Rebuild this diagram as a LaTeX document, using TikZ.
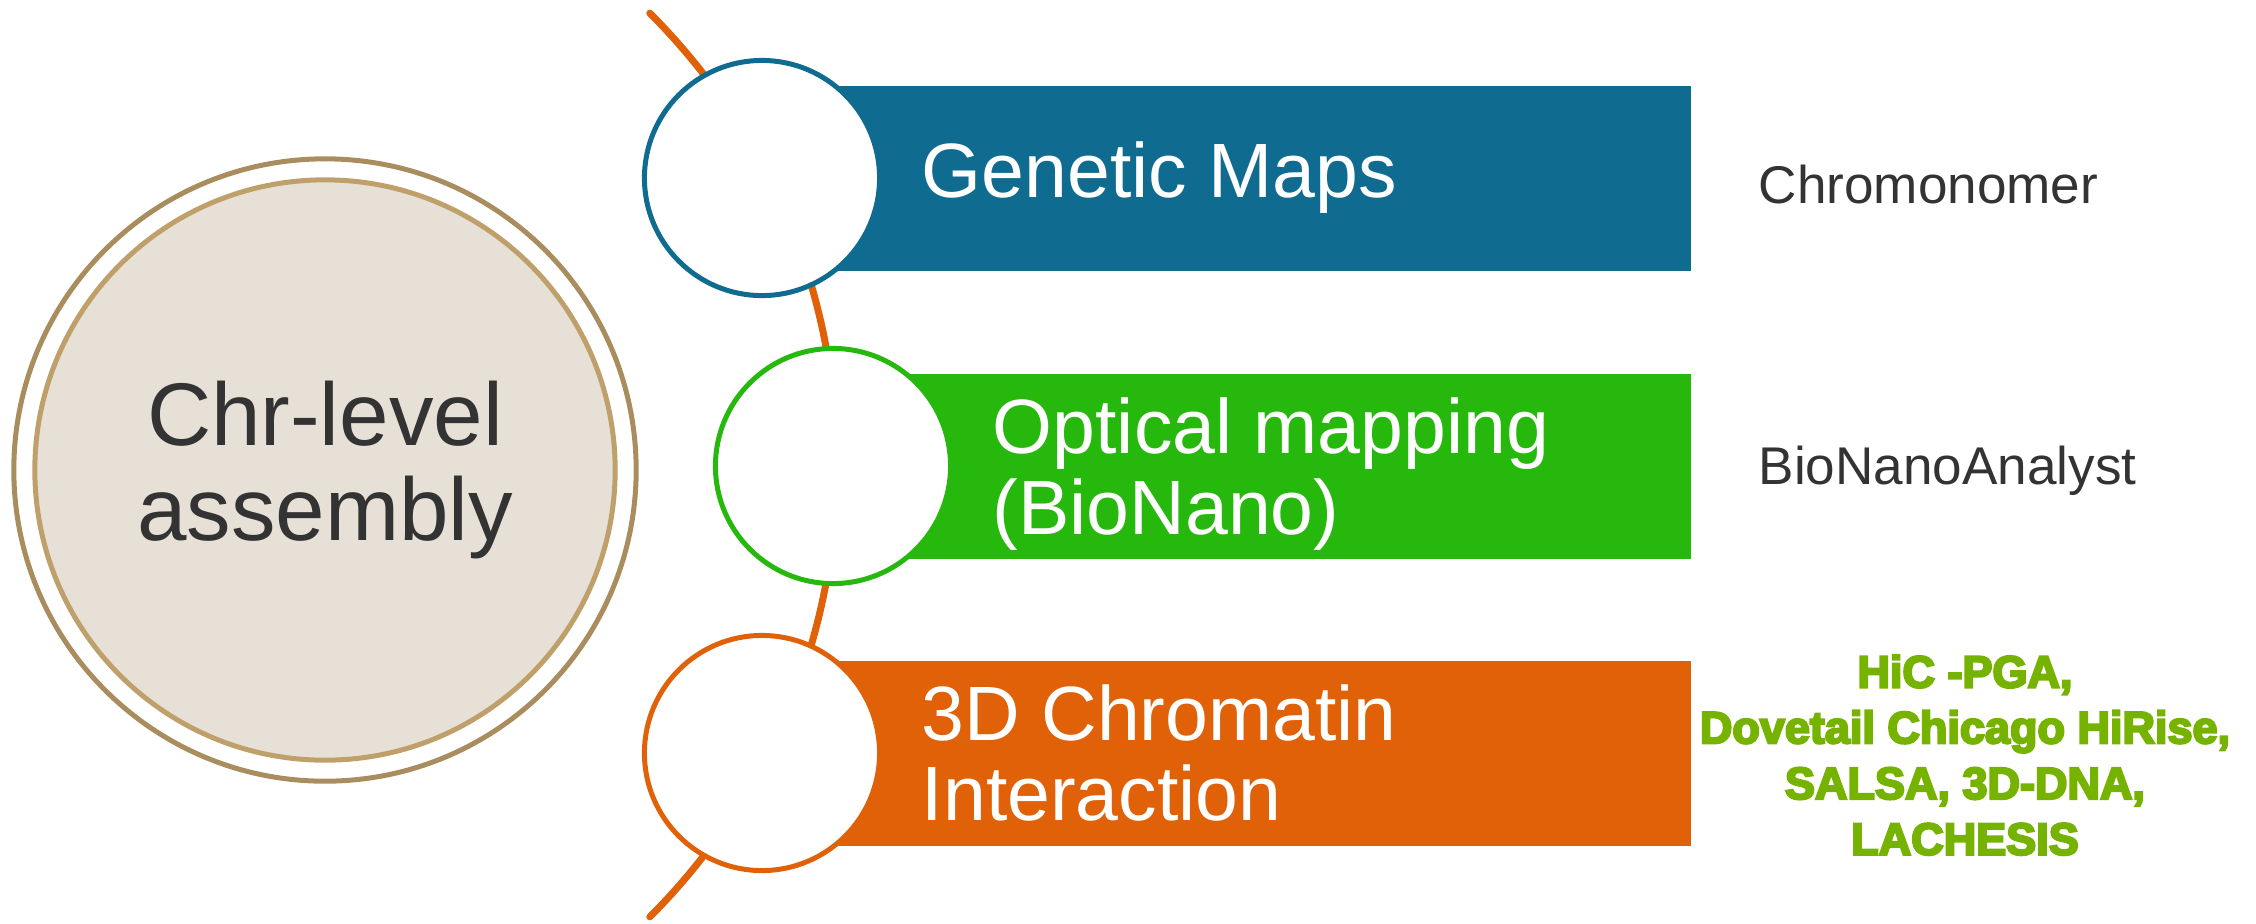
\documentclass[tikz,border=0pt]{standalone}
\usepackage{fontspec}
\setmainfont{Liberation Sans}
\newfontfamily\toolheavy{Liberation Sans}[BoldFeatures={FakeBold=5}]
\usetikzlibrary{positioning}

\definecolor{mapblue}{RGB}{16, 107, 145}
\definecolor{optgreen}{RGB}{38, 184, 12}
\definecolor{hicorange}{RGB}{224, 97, 8}
\definecolor{ringtan}{RGB}{169, 141, 94}
\definecolor{coretan}{RGB}{191, 160, 106}
\definecolor{coresand}{RGB}{231, 224, 214}
\definecolor{darktext}{RGB}{51, 51, 51}
\definecolor{toolgreen}{RGB}{118, 179, 0}

\tikzset{
  stepring/.style={circle, draw=#1, line width=0.5mm, fill=white, minimum size=23.5mm, inner sep=0pt},
  barlabel/.style={font=\fontsize{21.9}{23}\selectfont, text=white, align=left, inner sep=0pt},
  toollabel/.style={font=\fontsize{15.1}{18}\selectfont, text=darktext, inner sep=0pt, anchor=base west},
}

\begin{document}
\begin{tikzpicture}[x=0.01cm, y=-0.01cm]
  \useasboundingbox (0,0) rectangle (2256,923);
  \def\barend{1691}  % right end of the bars
  \def\bh{92.5}      % half bar height

  % Backbone arc (behind the step circles)
  \coordinate (arcc) at (198,465);
  \draw[hicorange, line width=0.7mm, line cap=round]
    (arcc) ++(-45:639) arc[start angle=-45, end angle=45, radius=639];

  % Chr-level circle
  \node[circle, draw=ringtan, line width=0.5mm, minimum size=62.2mm, inner sep=0pt] (ring) at (325,470) {};
  \node[circle, draw=coretan, fill=coresand, line width=0.5mm, minimum size=58mm, inner sep=0pt,
        font=\fontsize{25.3}{27}\selectfont, text=darktext, align=center] (core) at (ring.center) {Chr-level\\assembly};

  % Bars and step circles
  \foreach \cy/\cx/\col/\nm in {178/762/mapblue/gen, 466/833/optgreen/opt, 753/762/hicorange/hic} {
    \fill[\col] (\cx,\cy-\bh) rectangle (\barend,\cy+\bh);
    \node[stepring=\col] (\nm) at (\cx,\cy) {};
  }

  % Bar labels
  \node[barlabel, right=3.9mm of gen] (genlbl) {Genetic Maps};
  \node[barlabel, right=3.9mm of opt, yshift=-0.8mm] (optlbl) {Optical mapping\\(BioNano)};
  \node[barlabel, right=3.9mm of hic] (hiclbl) {3D Chromatin\\Interaction};

  % Tools
  \node[toollabel] (chromo) at (1758,203) {Chromonomer};
  \node[toollabel] (bnanal) at (1758,484) {BioNanoAnalyst};
  \node[font=\toolheavy\bfseries\fontsize{12.8}{15.85}\selectfont, text=toolgreen, align=center, inner sep=0pt]
    (hictools) at (1965,755) {HiC -PGA,\\Dovetail Chicago HiRise,\\SALSA, 3D-DNA,\\LACHESIS};
\end{tikzpicture}
\end{document}
